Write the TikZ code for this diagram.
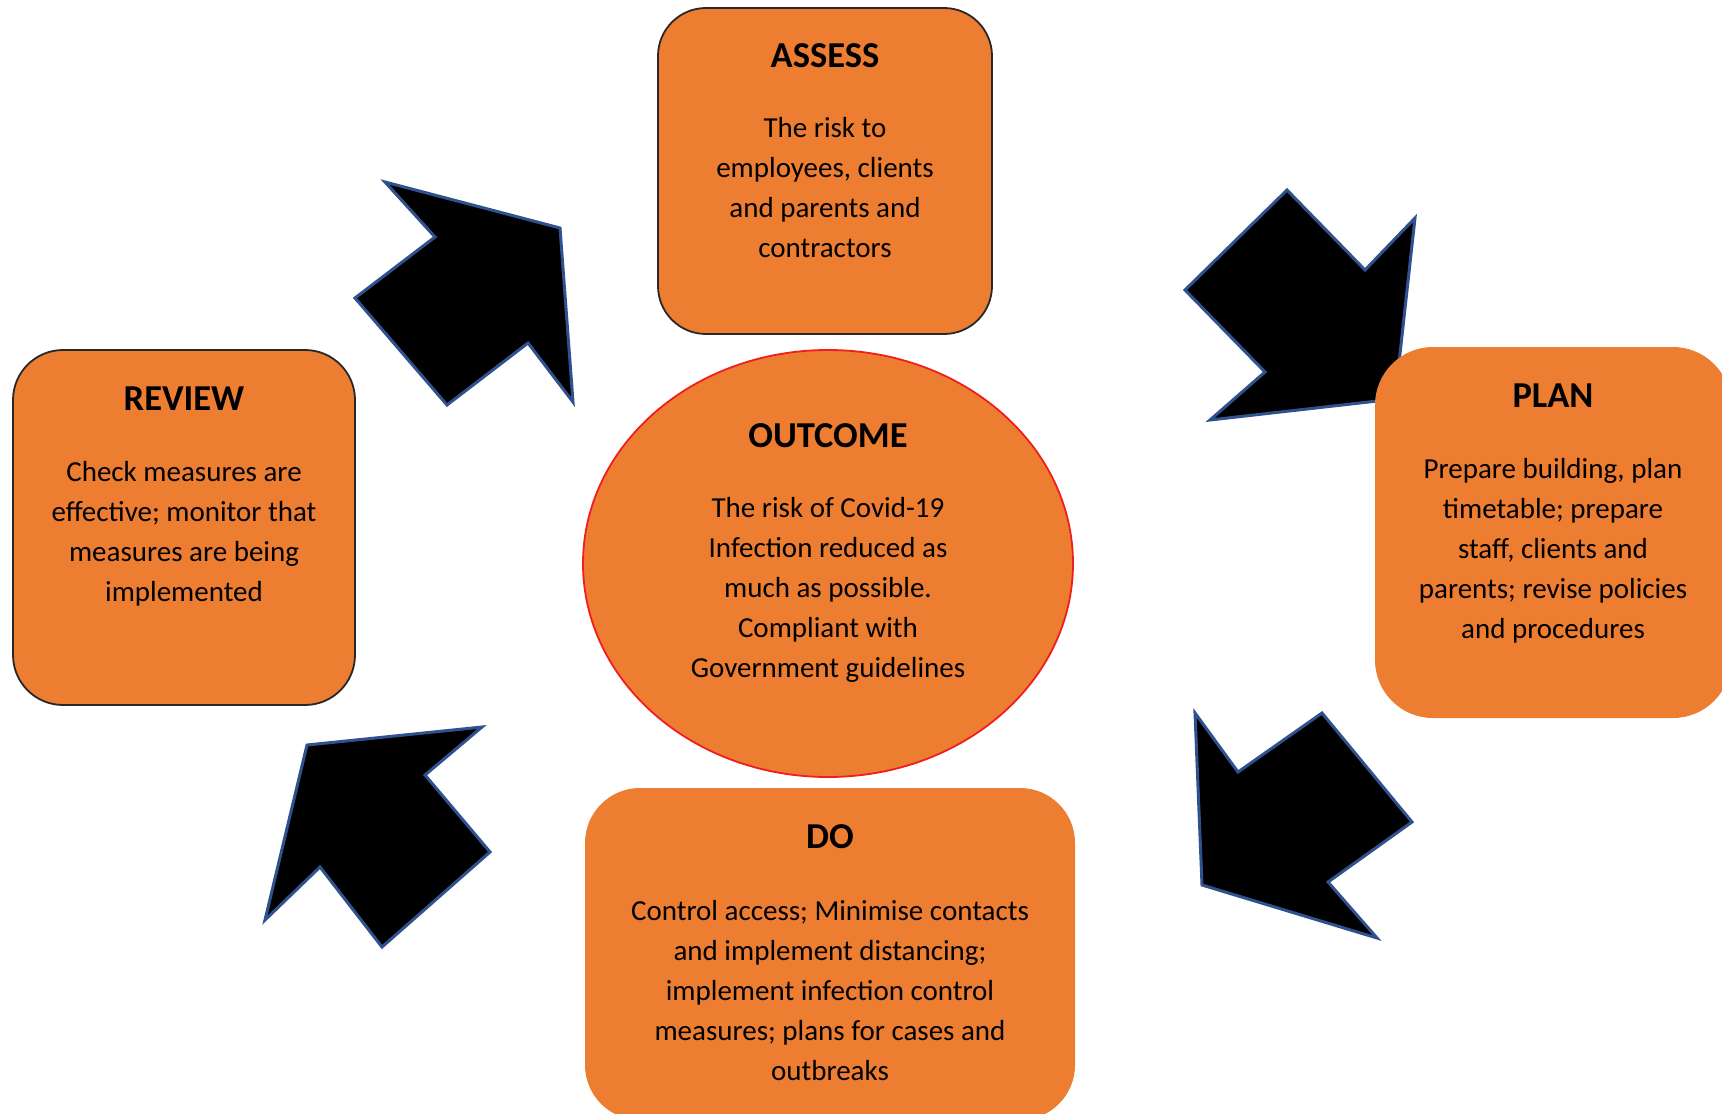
\documentclass[tikz,border=0pt]{standalone}
\usepackage{fontspec}
\setmainfont{Carlito}
\usetikzlibrary{shapes.geometric}
\definecolor{boxorange}{RGB}{237,125,49}
\definecolor{arrowblue}{RGB}{47,82,143}
\definecolor{boxedge}{RGB}{40,40,40}
\definecolor{ringred}{RGB}{240,30,30}
\begin{document}
\begin{tikzpicture}[x=1pt,y=-1pt,
  blockarrow/.style={fill=black, draw=arrowblue, line width=3pt, line join=miter},
  stagebox/.style={fill=boxorange, inner sep=0pt, rounded corners=#1},
  ttl/.style={font=\fontsize{36.5}{44}\selectfont\bfseries, anchor=base, inner sep=0pt},
  bodytxt/.style={font=\fontsize{29}{40}\selectfont, align=center, anchor=north, inner sep=0pt}]
\useasboundingbox (0,0) rectangle (1722,1114);
\clip (0,0) rectangle (1722,1114);
\fill[white] (0,0) rectangle (1722,1114);

% block arrows
\draw[blockarrow] (385,182) -- (560,228) -- (573,402) -- (528,343) -- (447,405) -- (355,298) -- (435,237) -- cycle;
\draw[blockarrow] (1287,190) -- (1365,270) -- (1415,218) -- (1395,399) -- (1210,420) -- (1265,372) -- (1185,290) -- cycle;
\draw[blockarrow] (1195,713) -- (1238,772) -- (1322,713) -- (1412,822) -- (1328,882) -- (1377,938) -- (1202,885) -- cycle;
\draw[blockarrow] (307,745) -- (482,727) -- (425,775) -- (490,852) -- (382,947) -- (320,867) -- (265,920) -- cycle;

% boxes
\node[stagebox=48pt, draw=boxedge, line width=1.8pt, minimum width=334pt, minimum height=326pt] (assess) at (825,171) {};
\node[stagebox=50pt, draw=boxedge, line width=1.8pt, minimum width=342pt, minimum height=355pt] (review) at (184,527.5) {};
\node[stagebox=58pt, minimum width=356pt, minimum height=371pt] (plan) at (1553,532.5) {};
\node[stagebox=55pt, minimum width=490pt, minimum height=332pt] (do) at (830,954) {};
\node[ellipse, fill=boxorange, draw=ringred, line width=1.8pt, inner sep=0pt, minimum width=490pt, minimum height=427pt] (outcome) at (828,563.5) {};

% texts
\node[ttl] (assessT) at (825,67) {ASSESS};
\node[bodytxt] (assessB) at (825,107) {\rule{0pt}{30pt}The risk to\\employees, clients\\and parents and\\contractors};

\node[ttl] (reviewT) at (184,410) {REVIEW};
\node[bodytxt] (reviewB) at (184,451) {\rule{0pt}{30pt}Check measures are\\effective; monitor that\\measures are being\\implemented};

\node[ttl] (planT) at (1553,407) {PLAN};
\node[bodytxt] (planB) at (1553,448) {\rule{0pt}{30pt}Prepare building, plan\\timetable; prepare\\staff, clients and\\parents; revise policies\\and procedures};

\node[ttl] (outcomeT) at (828,447) {OUTCOME};
\node[bodytxt] (outcomeB) at (828,487) {\rule{0pt}{30pt}The risk of Covid-19\\Infection reduced as\\much as possible.\\Compliant with\\Government guidelines};

\node[ttl] (doT) at (830,848) {DO};
\node[bodytxt] (doB) at (830,890) {\rule{0pt}{30pt}Control access; Minimise contacts\\and implement distancing;\\implement infection control\\measures; plans for cases and\\outbreaks};
\end{tikzpicture}
\end{document}
